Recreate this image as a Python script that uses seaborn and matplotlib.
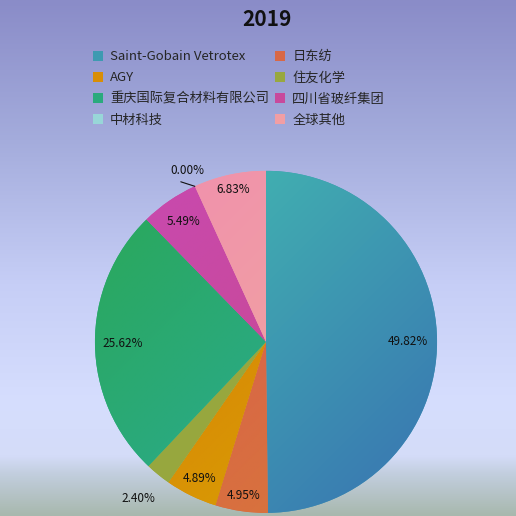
import numpy as np
import matplotlib
matplotlib.use("Agg")
import matplotlib.pyplot as plt
from matplotlib.colors import LinearSegmentedColormap, to_rgb
from matplotlib.lines import Line2D
import seaborn as sns

sns.set_theme(style="white")
plt.rcParams['font.family'] = ['Noto Sans CJK SC', 'DejaVu Sans']

title = "2019"
companies = ["Saint-Gobain Vetrotex", "日东纺", "AGY", "住友化学",
             "重庆国际复合材料有限公司", "四川省玻纤集团", "中材科技", "全球其他"]
shares = [49.82, 4.95, 4.89, 2.40, 25.62, 5.49, 0.00, 6.83]

# light / dark end of each slice gradient
light = ["#42b6b0", "#d85a52", "#d87a0a", "#9aaa44", "#2aa862", "#c84aac", "#a0dcdc", "#f092ac"]
dark = ["#3a7eb2", "#d8763a", "#d8a202", "#96a63a", "#2aac98", "#c8488c", "#90d0d4", "#f2aa9c"]
mid = [tuple((np.array(to_rgb(a)) + np.array(to_rgb(b))) / 2) for a, b in zip(light, dark)]
# radial position of each percentage label (fraction of radius)
label_r = [0.83, 0.91, 0.89, 1.18, 0.84, 0.85, 1.10, 0.91]

fig = plt.figure(figsize=(5.16, 5.16), dpi=100)

# background gradient
bg = fig.add_axes([0, 0, 1, 1], zorder=-10)
bg_cmap = LinearSegmentedColormap.from_list(
    "bg", [(0.0, "#8a8cc8"), (0.27, "#a4acdc"), (0.55, "#c6cef6"),
           (0.78, "#d6defe"), (0.885, "#d4dcf8"), (0.92, "#c2cede"), (1.0, "#a8b8ae")])
bg.imshow(np.linspace(0, 1, 256).reshape(-1, 1), aspect="auto", cmap=bg_cmap,
          extent=[0, 1, 0, 1])
bg.set_axis_off()

ax = fig.add_axes([0.184, 0.006, 0.663, 0.663])
wedges, _ = ax.pie(shares, colors=mid, startangle=90, counterclock=False,
                   radius=1.0, wedgeprops=dict(linewidth=0))
ax.set_xlim(-1, 1)
ax.set_ylim(-1, 1)
ax.set_aspect("equal")
ax.set_axis_off()

# diagonal gradient inside each slice
yy, xx = np.mgrid[1:-1:200j, -1:1:200j]
t = np.clip((xx - yy) / 2.8 + 0.5, 0, 1)
for w, c1, c2 in zip(wedges, light, dark):
    cm = LinearSegmentedColormap.from_list("s", [c1, c2])
    im = ax.imshow(t, cmap=cm, extent=[-1, 1, -1, 1], vmin=0, vmax=1,
                   interpolation="bilinear", zorder=w.get_zorder())
    im.set_clip_path(w)

# percentage labels
cum = np.cumsum([0] + shares)
for i, v in enumerate(shares):
    ang = np.deg2rad(90 - 3.6 * (cum[i] + v / 2))
    r = label_r[i]
    ax.text(r * np.cos(ang), r * np.sin(ang), f"{v:.2f}%", ha="center", va="center",
            fontsize=8.5, color="#111111", zorder=5)

# leader line for the 0.00% slice
a0 = np.deg2rad(90 - 3.6 * cum[6])
ax.plot([np.cos(a0), 1.06 * np.cos(a0 + 0.06)], [np.sin(a0), 1.06 * np.sin(a0 + 0.06)],
        color="#111111", lw=0.8, clip_on=False, zorder=5)

fig.text(0.517, 0.962, title, ha="center", va="center", fontsize=15,
         fontweight="bold", color="#111111")

handles = [Line2D([], [], marker="s", ls="", markersize=7.5,
                  markerfacecolor=c, markeredgewidth=0) for c in mid]
order = [0, 2, 4, 6, 1, 3, 5, 7]
fig.legend([handles[i] for i in order], [companies[i] for i in order],
           ncol=2, loc="upper left", bbox_to_anchor=(0.170, 0.913), frameon=False,
           fontsize=9.5, handlelength=0.8, handletextpad=0.5, columnspacing=0.45,
           labelspacing=0.62, borderaxespad=0)

fig.savefig("out.png", dpi=100)
